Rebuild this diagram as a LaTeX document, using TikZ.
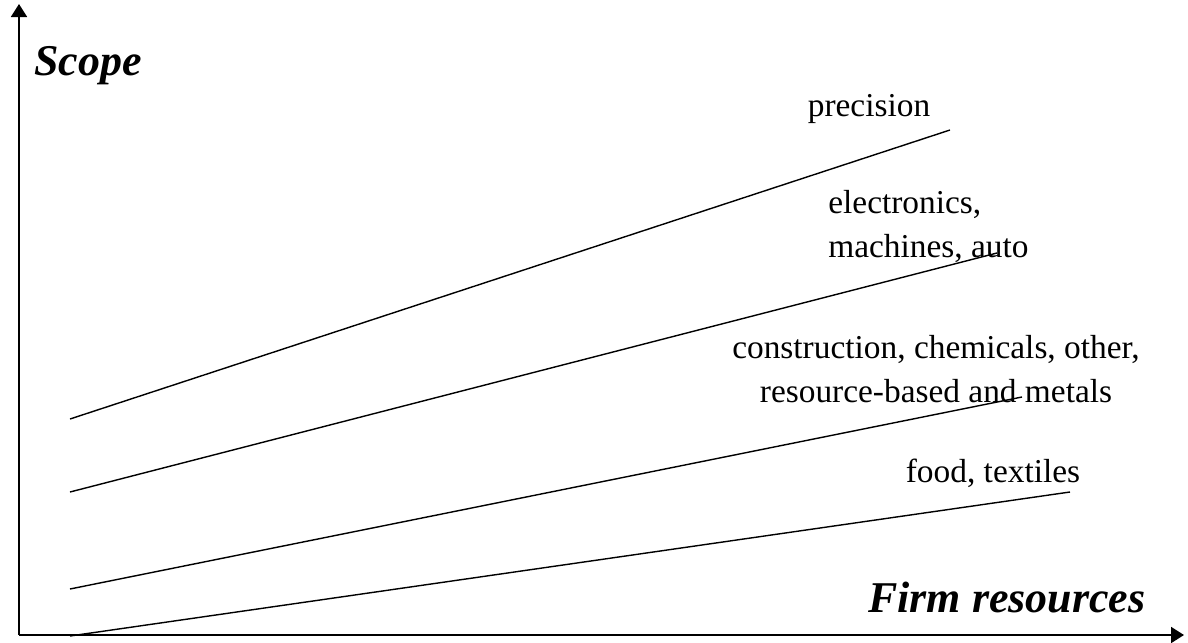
\documentclass[tikz,border=0pt]{standalone}
\usepackage{fontspec}
\setmainfont{Liberation Serif}
\usetikzlibrary{arrows.meta}
\tikzstyle{axis}=[
	-{Triangle[length=2.6mm,width=3.2mm]},
	line width=1.1pt,
	draw=black
]
\tikzstyle{edge}=[
	-,
	line width=0.8pt,
	draw=black
]
\tikzstyle{sector}=[
	inner sep=0pt,
	anchor=base,
	font=\fontsize{19}{25}\selectfont
]
\tikzstyle{axistitle}=[
	inner sep=0pt,
	anchor=base west,
	font=\fontsize{25}{30}\selectfont\bfseries\itshape
]

\begin{document}
\begin{tikzpicture}[x=0.02cm,y=-0.02cm]
\useasboundingbox (0,0) rectangle (1188,643);
\coordinate (o) at (19,635);
\coordinate (ytop) at (19,4);
\coordinate (xend) at (1184,635);
\draw[axis] (o) to (ytop);
\draw[axis] (o) to (xend);

\node[axistitle] (scope) at (34,75) {Scope};
\node[axistitle] (firm) at (868,612) {Firm resources};

\coordinate (a1) at (70,419);
\coordinate (a2) at (950,130);
\coordinate (b1) at (70,492);
\coordinate (b2) at (997,253);
\coordinate (c1) at (70,589);
\coordinate (c2) at (1022,397);
\coordinate (d1) at (70,636);
\coordinate (d2) at (1070,492);

\draw[edge] (a1) to (a2);
\draw[edge] (b1) to (b2);
\draw[edge] (c1) to (c2);
\draw[edge] (d1) to (d2);

% multi-line nodes: base sits on the last line
\node[sector] (precision) at (869,116) {precision};
\node[sector, anchor=base west, align=left] (electronics) at (828,257) {electronics,\\machines, auto};
\node[sector, align=center] (construction) at (936,402) {construction, chemicals, other,\\resource-based and metals};
\node[sector] (food) at (993,482) {food, textiles};
\end{tikzpicture}
\end{document}
